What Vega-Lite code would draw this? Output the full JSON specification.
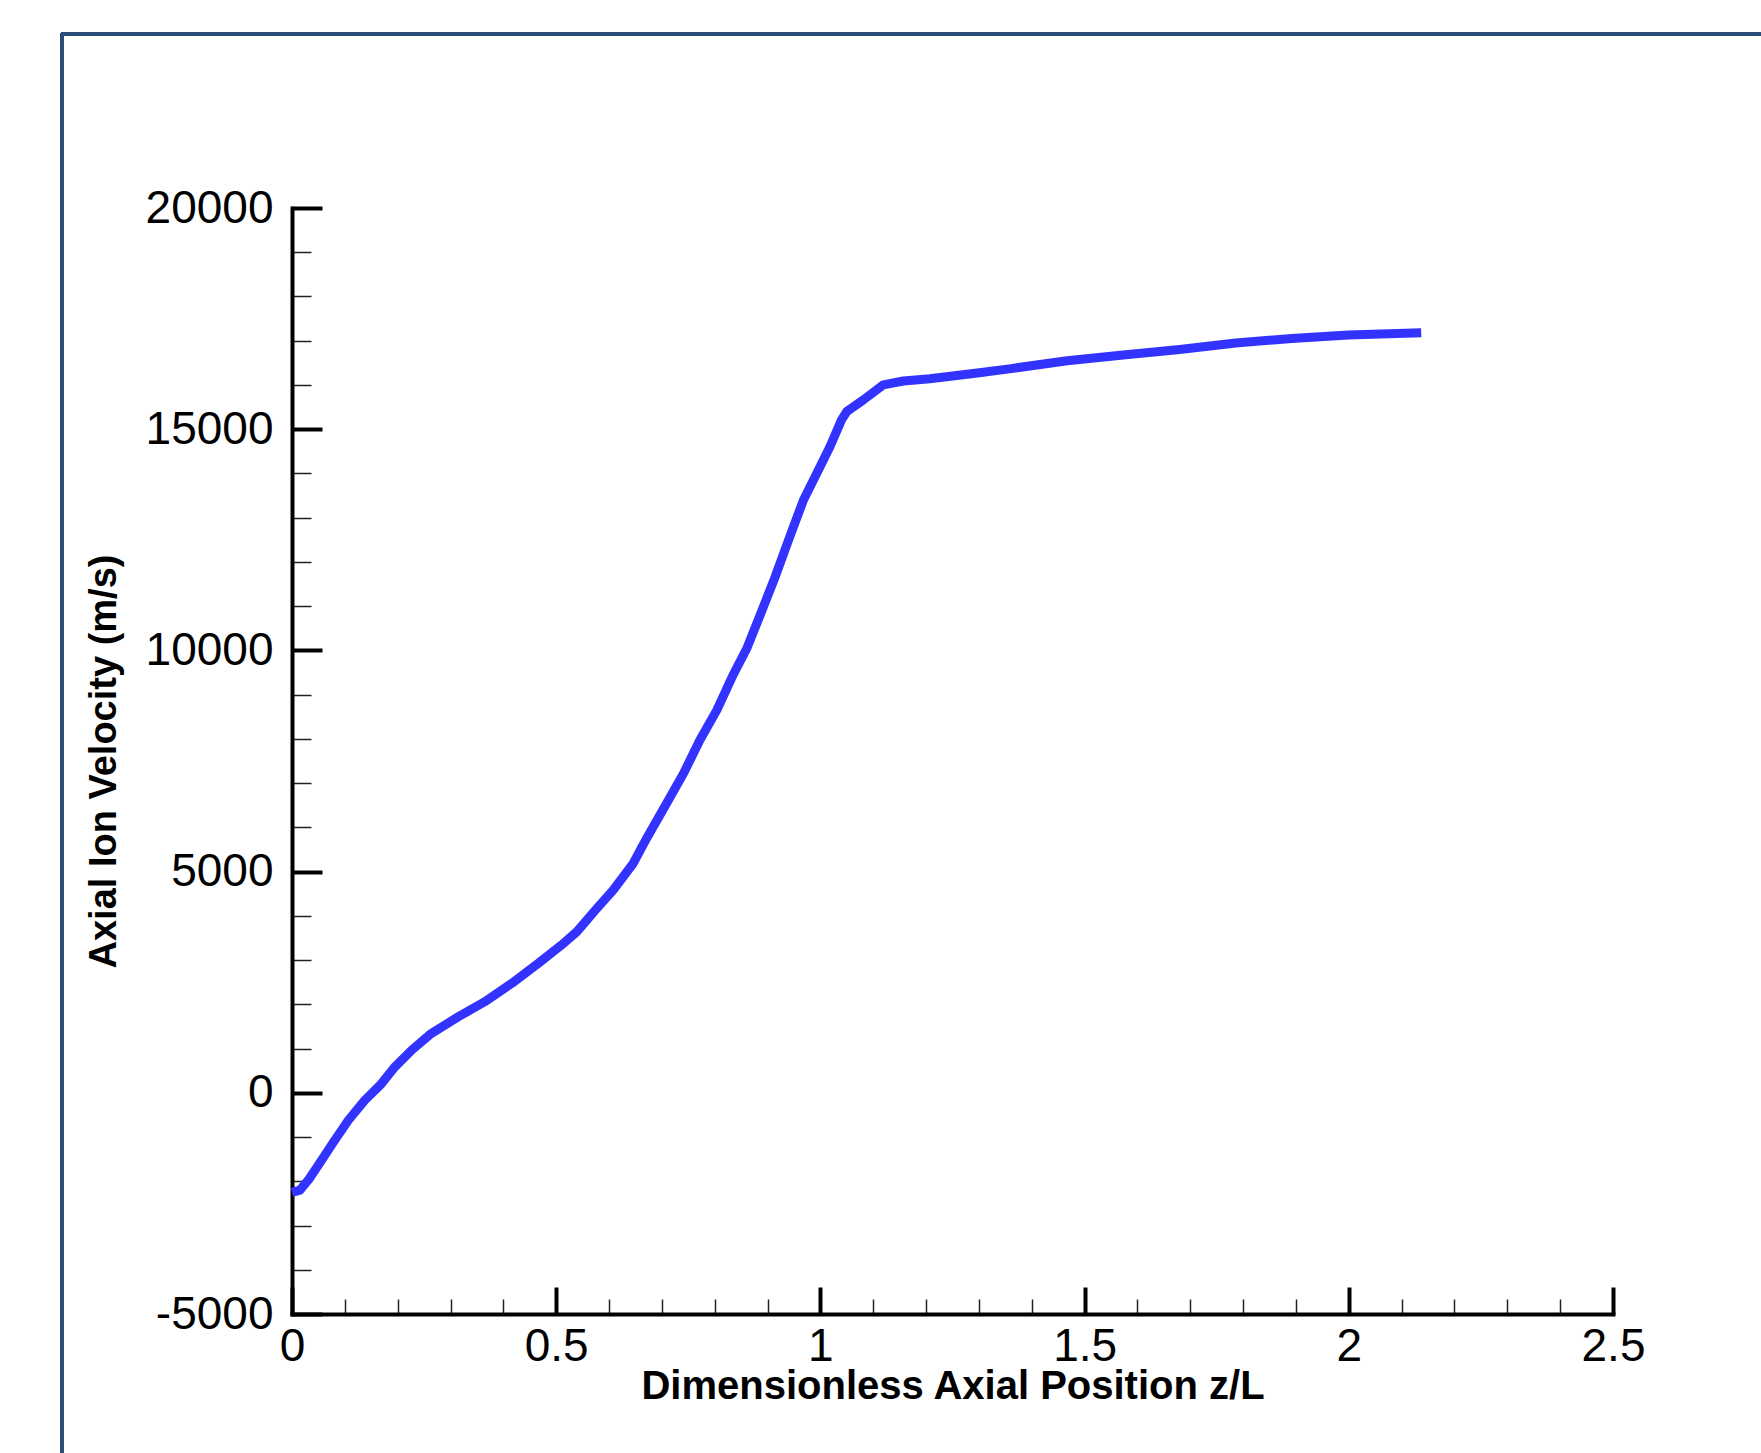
{
  "$schema": "https://vega.github.io/schema/vega-lite/v6.json",
  "autosize": {"type": "none"},
  "width": 1321,
  "height": 1106,
  "padding": {"left": 292, "top": 208, "right": 148, "bottom": 139},
  "background": "white",
  "config": {"view": {"stroke": null}},
  "data": {"values": [
    {"z": 0.0, "v": -2250}, {"z": 0.015, "v": -2200}, {"z": 0.031, "v": -1970},
    {"z": 0.05, "v": -1630}, {"z": 0.081, "v": -1070}, {"z": 0.107, "v": -615},
    {"z": 0.138, "v": -165}, {"z": 0.167, "v": 175}, {"z": 0.195, "v": 590},
    {"z": 0.227, "v": 970}, {"z": 0.264, "v": 1345}, {"z": 0.315, "v": 1720},
    {"z": 0.365, "v": 2060}, {"z": 0.416, "v": 2475}, {"z": 0.466, "v": 2925},
    {"z": 0.51, "v": 3340}, {"z": 0.539, "v": 3640}, {"z": 0.577, "v": 4170},
    {"z": 0.608, "v": 4585}, {"z": 0.646, "v": 5190}, {"z": 0.671, "v": 5750},
    {"z": 0.709, "v": 6545}, {"z": 0.741, "v": 7220}, {"z": 0.772, "v": 7975},
    {"z": 0.804, "v": 8650}, {"z": 0.835, "v": 9450}, {"z": 0.861, "v": 10050},
    {"z": 0.886, "v": 10800}, {"z": 0.914, "v": 11650}, {"z": 0.942, "v": 12570},
    {"z": 0.968, "v": 13400}, {"z": 0.993, "v": 14000}, {"z": 1.018, "v": 14605},
    {"z": 1.04, "v": 15210}, {"z": 1.05, "v": 15400}, {"z": 1.081, "v": 15660},
    {"z": 1.119, "v": 16000}, {"z": 1.157, "v": 16090}, {"z": 1.207, "v": 16140},
    {"z": 1.297, "v": 16270}, {"z": 1.361, "v": 16370}, {"z": 1.467, "v": 16548},
    {"z": 1.573, "v": 16675}, {"z": 1.68, "v": 16800}, {"z": 1.786, "v": 16950},
    {"z": 1.892, "v": 17050}, {"z": 1.999, "v": 17130}, {"z": 2.137, "v": 17180}
  ]},
  "resolve": {"axis": {"x": "independent", "y": "independent"}, "scale": {"x": "shared", "y": "shared"}},
  "layer": [
    {
      "mark": {"type": "rect", "fill": null, "filled": false, "stroke": "#2b4d78", "strokeWidth": 2.5, "clip": false},
      "encoding": {
        "x": {"datum": -0.435, "type": "quantitative", "scale": {"domain": [0, 2.5], "nice": false, "zero": false},
          "axis": {"orient": "bottom", "values": [0.1,0.2,0.3,0.4,0.6,0.7,0.8,0.9,1.1,1.2,1.3,1.4,1.6,1.7,1.8,1.9,2.1,2.2,2.3,2.4],
            "labels": false, "domain": false, "grid": false, "title": null, "tickSize": -15, "tickWidth": 1.5, "tickColor": "#222222"}},
        "x2": {"datum": 3.0},
        "y": {"datum": 23933, "type": "quantitative", "scale": {"domain": [-5000, 20000], "nice": false, "zero": false},
          "axis": {"orient": "left", "values": [-4000,-3000,-2000,-1000,1000,2000,3000,4000,6000,7000,8000,9000,11000,12000,13000,14000,16000,17000,18000,19000],
            "labels": false, "domain": false, "grid": false, "title": null, "tickSize": -19, "tickWidth": 1.5, "tickColor": "#222222"}},
        "y2": {"datum": -9000}
      }
    },
    {
      "mark": {"type": "line", "color": "#3333ff", "strokeWidth": 9, "strokeCap": "butt", "strokeJoin": "round"},
      "encoding": {
        "x": {"field": "z", "type": "quantitative", "scale": {"domain": [0, 2.5], "nice": false, "zero": false},
          "axis": {"orient": "bottom", "values": [0, 0.5, 1, 1.5, 2, 2.5], "labelExpr": "'' + datum.value",
            "grid": false, "tickSize": -27, "tickWidth": 4, "tickColor": "black",
            "domainWidth": 4, "domainColor": "black", "domainCap": "square",
            "labelFont": "Liberation Sans", "labelFontSize": 46, "labelColor": "black", "labelPadding": 37,
            "labelFlush": false, "labelOverlap": false,
            "title": "Dimensionless Axial Position z/L", "titleFont": "Liberation Sans", "titleFontWeight": "bold",
            "titleFontSize": 40, "titleColor": "black", "titlePadding": -3}},
        "y": {"field": "v", "type": "quantitative", "scale": {"domain": [-5000, 20000], "nice": false, "zero": false},
          "axis": {"orient": "left", "values": [-5000, 0, 5000, 10000, 15000, 20000], "labelExpr": "'' + datum.value",
            "grid": false, "tickSize": -30, "tickWidth": 4, "tickColor": "black",
            "domainWidth": 4, "domainColor": "black", "domainCap": "square",
            "labelFont": "Liberation Sans", "labelFontSize": 46, "labelColor": "black", "labelPadding": 49,
            "labelFlush": false, "labelOverlap": false,
            "title": "Axial Ion Velocity (m/s)", "titleFont": "Liberation Sans", "titleFontWeight": "bold",
            "titleFontSize": 38, "titleColor": "black", "titlePadding": 22}}
      }
    }
  ]
}
